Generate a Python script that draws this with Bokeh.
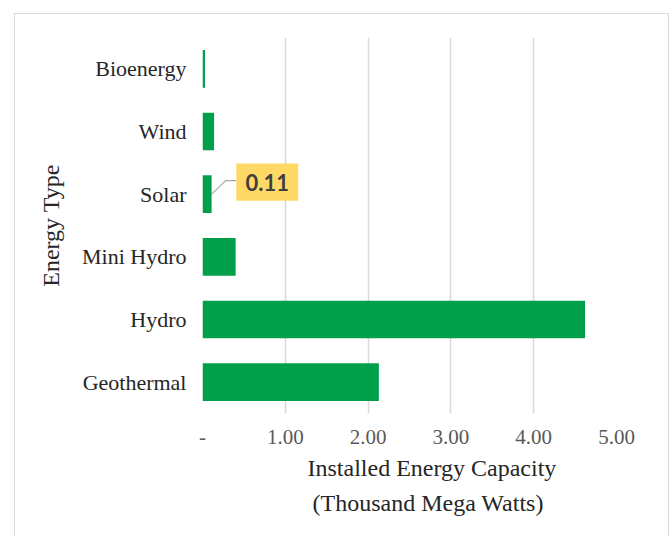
from bokeh.plotting import figure
from bokeh.models import FixedTicker, Range1d, Title
from bokeh.core.properties import value
from bokeh.embed import file_html
from bokeh.resources import INLINE

# ---- data ----
categories = ["Geothermal", "Hydro", "Mini Hydro", "Solar", "Wind", "Bioenergy"]
capacity = [2.13, 4.62, 0.40, 0.11, 0.14, 0.03]
x_ticks = [0, 1, 2, 3, 4, 5]
x_tick_labels = ["-", "1.00", "2.00", "3.00", "4.00", "5.00"]
x_title_lines = ["Installed Energy Capacity", "(Thousand Mega Watts)"]
callout_category = "Solar"

SERIF = "Liberation Serif"
GREEN = "#00A04B"

X_MAX = 5.0
FRAME_W, FRAME_H = 412, 374

p = figure(width=653, height=540, output_backend="svg", toolbar_location=None,
           x_range=Range1d(0, X_MAX), y_range=Range1d(-0.5, len(categories) - 0.5),
           min_border_left=187, min_border_right=54, min_border_top=23,
           min_border_bottom=540 + 14 - 411)
p.styles = {"margin-left": "14px", "margin-top": "13px",
            "border": "1px solid #d9d9d9", "box-sizing": "content-box"}
p.outline_line_color = None
p.background_fill_color = "white"
p.border_fill_color = "white"

ys = list(range(len(categories)))
p.hbar(y=ys, right=capacity, left=0, height=0.6, fill_color=GREEN, line_color=None)

# axes
p.xaxis.ticker = FixedTicker(ticks=x_ticks)
p.xaxis.major_label_overrides = {t: l for t, l in zip(x_ticks, x_tick_labels)}
p.xaxis.axis_line_color = None
p.xaxis.major_tick_line_color = None
p.xaxis.minor_tick_line_color = None
p.xaxis.major_label_text_font = SERIF
p.xaxis.major_label_text_font_size = "21px"
p.xaxis.major_label_text_color = "#595959"
p.xaxis.major_label_standoff = 10

p.yaxis.ticker = FixedTicker(ticks=ys)
p.yaxis.major_label_overrides = {i: c for i, c in zip(ys, categories)}
p.yaxis.axis_line_color = None
p.yaxis.major_tick_line_color = None
p.yaxis.minor_tick_line_color = None
p.yaxis.major_label_text_font = SERIF
p.yaxis.major_label_text_font_size = "22px"
p.yaxis.major_label_text_color = "#262626"
p.yaxis.major_label_standoff = 10
p.yaxis.axis_label = "Energy Type"
p.yaxis.axis_label_text_font = SERIF
p.yaxis.axis_label_text_font_size = "24px"
p.yaxis.axis_label_text_font_style = "normal"
p.yaxis.axis_label_text_color = "#262626"
p.yaxis.axis_label_standoff = 15

p.xgrid.ticker = FixedTicker(ticks=x_ticks)
p.xgrid.grid_line_color = "#d9d9d9"
p.xgrid.grid_line_width = 1.5
p.ygrid.grid_line_color = None

# x-axis title, two lines, slightly right of centre as in the source
title_offsets = [105, 110]
title_standoffs = [13, 0]
for line, off, so in zip(x_title_lines, title_offsets, title_standoffs):
    t = Title(text=line, align="left", offset=off,
              text_font=SERIF, text_font_size="24px", text_font_style="normal",
              text_color="#262626", standoff=so)
    p.add_layout(t, "below")

# ---- data callout on Solar ----
px_x = X_MAX / FRAME_W
px_y = len(categories) / FRAME_H
ci = categories.index(callout_category)
cv = capacity[ci]
box_l, box_r, box_t, box_b = 24.6, 86.2, 30.5, -6.5
elbow_dx, elbow_dy = 14, 13.5
p.line(x=[cv, cv + elbow_dx * px_x, cv + box_l * px_x],
       y=[ci, ci + elbow_dy * px_y, ci + elbow_dy * px_y],
       line_color="#a6a6a6", line_width=1.2)
p.quad(left=[cv + box_l * px_x], right=[cv + box_r * px_x],
       top=[ci + box_t * px_y], bottom=[ci + box_b * px_y],
       fill_color="#FFD966", line_color=None)
p.text(x=[cv + (box_l + box_r) / 2 * px_x], y=[ci + (box_t + box_b) / 2 * px_y],
       text=[f"{cv:.2f}"], text_align="center", text_baseline="middle",
       text_font=value("Lato"), text_font_style="bold", text_font_size="22px",
       text_color="#404040")

open("out.html", "w").write(file_html(p, INLINE))
